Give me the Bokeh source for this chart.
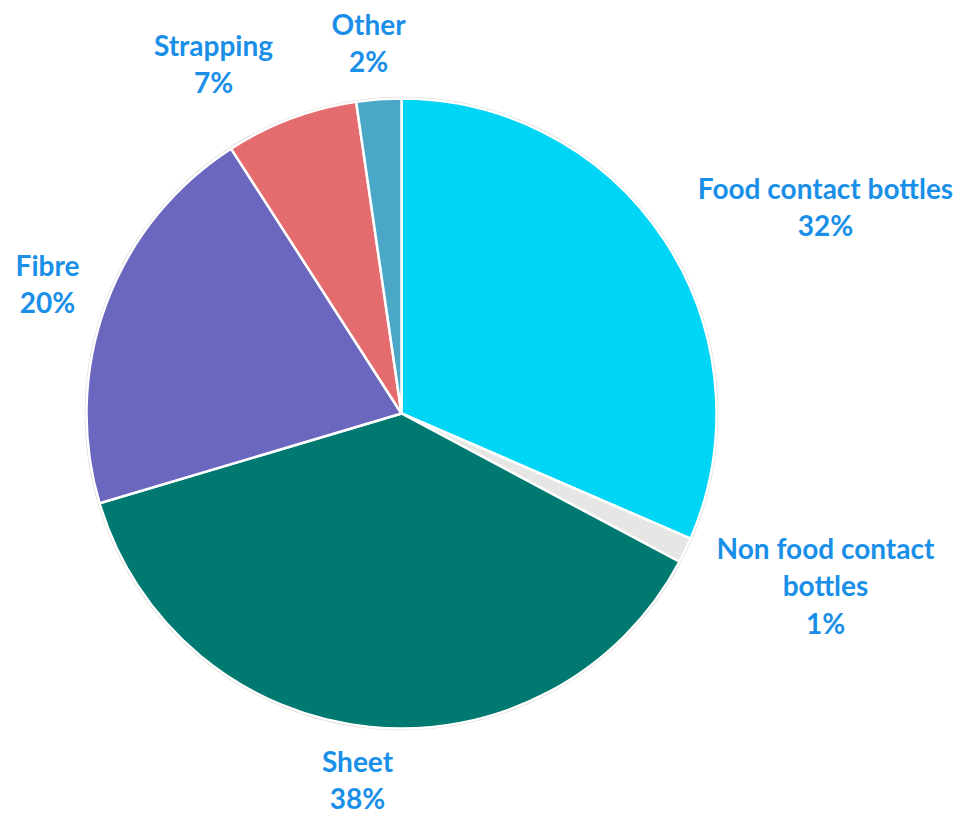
import math
from bokeh.plotting import figure
from bokeh.models import Range1d, ColumnDataSource
from bokeh.core.properties import value
from bokeh.embed import file_html
from bokeh.resources import INLINE

# ---- data ----
categories = ["Food contact bottles", "Non food contact bottles", "Sheet",
              "Fibre", "Strapping", "Other"]
shares = [31.5, 1.3, 37.6, 20.5, 6.8, 2.3]
pct_labels = ["32%", "1%", "38%", "20%", "7%", "2%"]
label_names = ["Food contact bottles", "Non food contact\nbottles", "Sheet",
               "Fibre", "Strapping", "Other"]
colors = ["#00D5F5", "#E6E6E4", "#007A70", "#6B67BF", "#E46C6E", "#4BA7C6"]

# ---- layout (pixels, y measured upward in plot space) ----
W, H = 960, 816
CX, CY, R = 401, H - 413, 315
# label anchor offsets from pie centre (dx, dy) in pixels, layout only
label_offsets = [(424, 207), (424, -172), (-44, -366), (-354, 130), (-188, 350), (-33, 371)]

total = sum(shares)
starts, ends = [], []
cum = 0.0
for s in shares:
    a0 = math.pi / 2 - 2 * math.pi * cum / total
    cum += s
    a1 = math.pi / 2 - 2 * math.pi * cum / total
    starts.append(a0)
    ends.append(a1)

src = ColumnDataSource(dict(cat=categories, start=starts, end=ends, color=colors))

p = figure(width=W, height=H, x_range=Range1d(0, W), y_range=Range1d(0, H),
           output_backend="svg", toolbar_location=None, min_border=0)
p.axis.visible = False
p.grid.visible = False
p.outline_line_color = None
p.background_fill_color = "white"

p.circle(x=[CX], y=[CY], radius=R + 1, fill_color=None, line_color="#D4D4D4", line_width=1.5)
p.wedge(x=CX, y=CY, radius=R, start_angle="start", end_angle="end", direction="clock",
        fill_color="color", line_color="white", line_width=2.5, source=src)

lx = [CX + dx for dx, dy in label_offsets]
ly = [CY + dy for dx, dy in label_offsets]
texts = [f"{n}\n{pc}" for n, pc in zip(label_names, pct_labels)]
p.text(x=lx, y=ly, text=texts, text_align="center", text_baseline="middle",
       text_font=value("Lato"), text_font_style="bold", text_font_size="28px",
       text_color="#1A8FE8", text_line_height=1.1)

open("out.html", "w").write(file_html(p, INLINE))
